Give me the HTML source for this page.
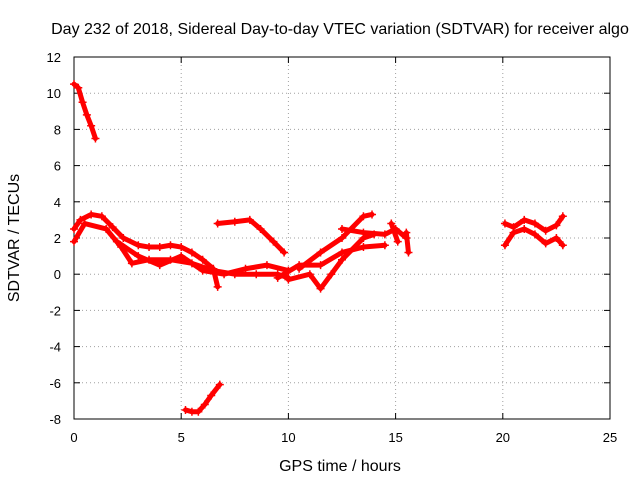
<!DOCTYPE html>
<html><head><meta charset="utf-8"><style>
body{margin:0;background:#fff}
svg text{font-family:"Liberation Sans",sans-serif;font-size:13px;fill:#000}
svg text.big{font-size:16px}
</style></head><body>
<svg width="640" height="480">
<rect width="640" height="480" fill="#fff"/>
<text class="big" x="340" y="34" text-anchor="middle">Day 232 of 2018, Sidereal Day-to-day VTEC variation (SDTVAR) for receiver algo</text>
<g id="grid"></g><g id="axes"></g><g id="series"></g>
<text class="big" x="340" y="471" text-anchor="middle">GPS time / hours</text>
<text class="big" transform="translate(19,238) rotate(-90)" text-anchor="middle">SDTVAR / TECUs</text>
</svg>
<script>
const xTicks=[0,5,10,15,20,25];
const yTicks=[-8,-6,-4,-2,0,2,4,6,8,10,12];
const tr1=[[0,10.5],[0.2,10.3],[0.4,9.5],[0.6,8.8],[0.8,8.2],[1.0,7.5]];
const tr2=[[5.2,-7.5],[5.5,-7.6],[5.8,-7.6],[6.1,-7.2],[6.4,-6.7],[6.8,-6.1]];
const tr3=[[6.7,2.8],[7.5,2.9],[8.2,3.0],[8.7,2.5],[9.3,1.8],[9.8,1.2]];
const tr4=[[0,2.5],[0.3,3.0],[0.8,3.3],[1.3,3.2],[1.8,2.6],[2.3,2.0],[3,1.6],[3.5,1.5],[4,1.5],[4.5,1.6],[5,1.5],[5.5,1.2],[6,0.8],[6.5,0.3],[6.7,-0.7]];
const tr5=[[0,1.8],[0.5,2.8],[1.5,2.5],[2.2,1.5],[2.7,0.6],[3.5,0.8],[4.5,0.8],[5.5,0.6],[6.5,0.2],[7.5,0],[8.5,0],[9.5,0],[10,-0.2]];
const tr6=[[2,1.8],[3,1.0],[4,0.5],[5,1.0],[6,0.2],[7,0],[8,0.3],[9,0.5],[10,0.2]];
const tr7=[[10,-0.3],[11,0],[11.5,-0.8],[12,0],[12.5,0.8],[13.5,2],[14,2.2]];
const tr8=[[10.5,0.3],[11.5,1.2],[12.5,2.0],[13.5,3.2],[13.9,3.3]];
const tr9=[[9.5,-0.2],[10.5,0.5],[11.5,0.5],[12.5,1.2],[13.5,1.5],[14.5,1.6]];
const tr10=[[12.5,2.5],[13.5,2.3],[14.5,2.2],[15,2.5],[15.5,2.0]];
const tr11=[[14.8,2.8],[15.1,1.8]];
const tr12=[[15.5,2.3],[15.6,1.2]];
const tr13=[[20.1,2.8],[20.5,2.6],[21,3],[21.5,2.8],[22,2.4],[22.5,2.7],[22.8,3.2]];
const tr14=[[20.1,1.6],[20.5,2.3],[21,2.5],[21.5,2.2],[22,1.7],[22.5,2.0],[22.8,1.6]];
const traces=[tr1,tr2,tr3,tr4,tr5,tr6,tr7,tr8,tr9,tr10,tr11,tr12,tr13,tr14];
const X0=74,X1=610,Y0=419,Y1=57;
const sx=v=>X0+(v-0)/25*(X1-X0);
const sy=v=>Y0-(v+8)/20*(Y0-Y1);
const NS="http://www.w3.org/2000/svg";
function mk(t,a,p){const e=document.createElementNS(NS,t);for(const k in a)e.setAttribute(k,a[k]);p.appendChild(e);return e;}
const grid=document.getElementById('grid'),axes=document.getElementById('axes'),ser=document.getElementById('series');
xTicks.forEach(v=>{const x=sx(v);
 if(v>0&&v<25){const l=mk('line',{x1:x,y1:Y1,x2:x,y2:Y0,stroke:'#a0a0a0','stroke-dasharray':'1,3'},grid);
 
 }
 mk('line',{x1:x,y1:Y0,x2:x,y2:Y0-6,stroke:'#000'},axes);
 mk('line',{x1:x,y1:Y1,x2:x,y2:Y1+6,stroke:'#000'},axes);
 const t=mk('text',{x:x,y:Y0+23,'text-anchor':'middle'},axes);t.textContent=v;
 
 
});
yTicks.forEach(v=>{const y=sy(v);
 if(v>-8&&v<12){const l=mk('line',{x1:X0,y1:y,x2:X1,y2:y,stroke:'#a0a0a0','stroke-dasharray':'1,3'},grid);
 
 }
 mk('line',{x1:X0,y1:y,x2:X0+6,y2:y,stroke:'#000'},axes);
 mk('line',{x1:X1,y1:y,x2:X1-6,y2:y,stroke:'#000'},axes);
 const t=mk('text',{x:X0-13,y:y+5,'text-anchor':'end'},axes);t.textContent=v;
 
 
});
const fr=mk('rect',{x:X0,y:Y1,width:X1-X0,height:Y0-Y1,fill:'none',stroke:'#000'},axes);


traces.forEach((tr,i)=>{
 const pts=tr.map(p=>sx(p[0])+','+sy(p[1])).join(' ');
 const pl=mk('polyline',{points:pts,fill:'none',stroke:'#ff0000','stroke-width':5,'stroke-linejoin':'round','stroke-linecap':'round'},ser);
 
 
 tr.forEach(p=>{const x=sx(p[0]),y=sy(p[1]);
  mk('path',{d:`M${x-4},${y}H${x+4}M${x},${y-4}V${y+4}`,stroke:'#ff0000','stroke-width':1.5},ser);
 });
});
</script>
</body></html>
